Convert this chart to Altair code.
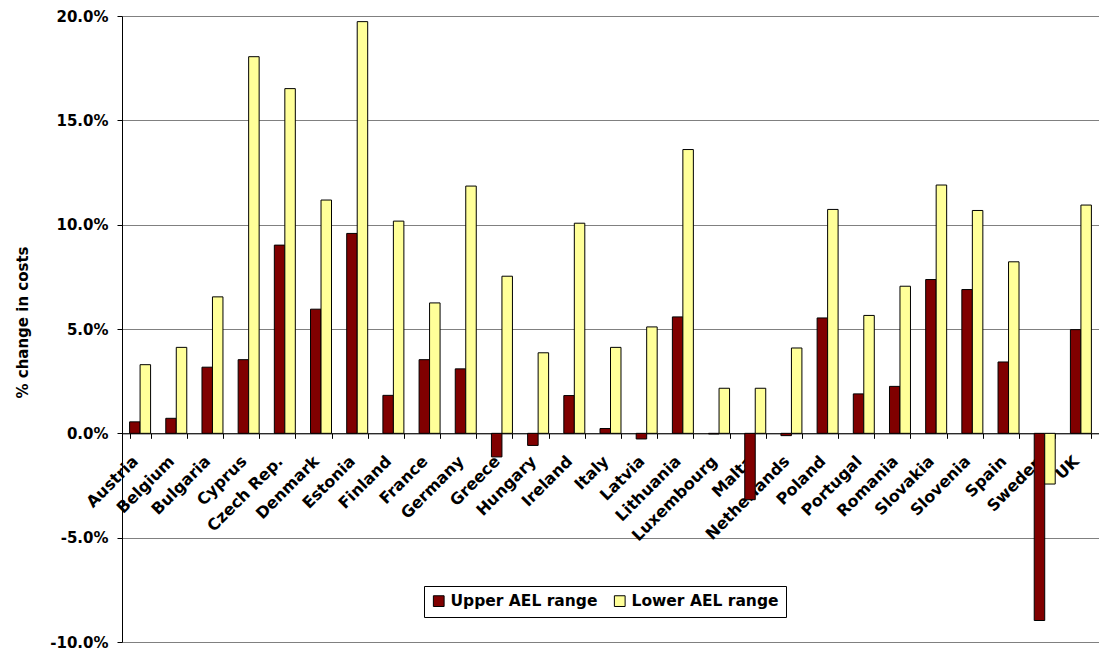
import altair as alt
import pandas as pd

# Percentage change in costs per country, for the two AEL range scenarios
countries = ["Austria", "Belgium", "Bulgaria", "Cyprus", "Czech Rep.", "Denmark",
             "Estonia", "Finland", "France", "Germany", "Greece", "Hungary",
             "Ireland", "Italy", "Latvia", "Lithuania", "Luxembourg", "Malta",
             "Netherlands", "Poland", "Portugal", "Romania", "Slovakia",
             "Slovenia", "Spain", "Sweden", "UK"]
upper_ael = [0.55, 0.72, 3.17, 3.53, 9.02, 5.95, 9.58, 1.82, 3.53, 3.09, -1.13,
             -0.58, 1.81, 0.23, -0.27, 5.58, -0.03, -3.18, -0.11, 5.53, 1.89,
             2.25, 7.37, 6.89, 3.42, -8.97, 4.97]
lower_ael = [3.29, 4.12, 6.54, 18.05, 16.52, 11.18, 19.73, 10.17, 6.25, 11.85,
             7.53, 3.86, 10.07, 4.12, 5.10, 13.60, 2.16, 2.16, 4.09, 10.73, 5.65,
             7.05, 11.90, 10.68, 8.22, -2.43, 10.94]
series = ["Upper AEL range", "Lower AEL range"]
series_colors = ["#800000", "#FFFF99"]
y_ticks = [-10, -5, 0, 5, 10, 15, 20]

rows = []
for i, c in enumerate(countries):
    rows.append({"country": c, "series": series[0], "value": upper_ael[i]})
    rows.append({"country": c, "series": series[1], "value": lower_ael[i]})
df = pd.DataFrame(rows)

FONT = "DejaVu Sans"
W, H = 977, 626
y_min, y_max = -10, 20
# category axis sits on the zero line
zero_offset = -H * (0 - y_min) / (y_max - y_min)

bars = alt.Chart(df).mark_bar(stroke="black", strokeWidth=1).encode(
    x=alt.X("country:N", sort=countries,
            scale=alt.Scale(paddingInner=0.42, paddingOuter=0.21),
            axis=alt.Axis(title=None, orient="bottom", offset=zero_offset,
                          labelAngle=315, labelAlign="right", labelBaseline="middle",
                          labelPadding=20, labelOffset=-5, labelFont=FONT,
                          labelFontSize=16, labelFontWeight="bold", labelColor="black",
                          labelOverlap=False, labelBound=False, labelFlush=False,
                          tickBand="extent", tickSize=5, tickColor="black",
                          domainColor="black", domainWidth=1, grid=False)),
    xOffset=alt.XOffset("series:N", sort=series,
                        scale=alt.Scale(paddingInner=0, paddingOuter=0)),
    y=alt.Y("value:Q",
            scale=alt.Scale(domain=[y_min, y_max], nice=False, zero=False),
            axis=alt.Axis(title="% change in costs", values=y_ticks,
                          labelExpr="(datum.value < 0 ? '-' : '') + format(abs(datum.value), '.1f') + '%'",
                          labelFont=FONT, labelFontSize=15, labelFontWeight="bold",
                          labelColor="black", labelPadding=9,
                          tickSize=5, tickColor="black", domainColor="black",
                          gridColor="#808080", gridWidth=1,
                          titleFont=FONT, titleFontSize=15, titleFontWeight="bold",
                          titleColor="black", titleAngle=270, titleX=-100, titleY=306,
                          titleAlign="center", titleBaseline="middle")),
    color=alt.Color("series:N", sort=series,
                    scale=alt.Scale(domain=series, range=series_colors),
                    legend=alt.Legend(title=None, orient="none", legendX=302, legendY=570,
                                      direction="horizontal", strokeColor="black",
                                      fillColor="white", padding=7,
                                      symbolType="square", symbolSize=115,
                                      symbolStrokeColor="black", symbolStrokeWidth=1,
                                      labelFont=FONT, labelFontSize=15.5,
                                      labelFontWeight="bold", labelColor="black",
                                      columnPadding=14, labelOffset=4)),
)

chart = bars.properties(
    width=W, height=H,
    autosize=alt.AutoSizeParams(type="none"),
    padding={"left": 122, "top": 16, "right": 0, "bottom": 11},
    background="white",
).configure_view(stroke=None)

chart.save("out.html", embed_options={"renderer": "svg", "actions": False})
